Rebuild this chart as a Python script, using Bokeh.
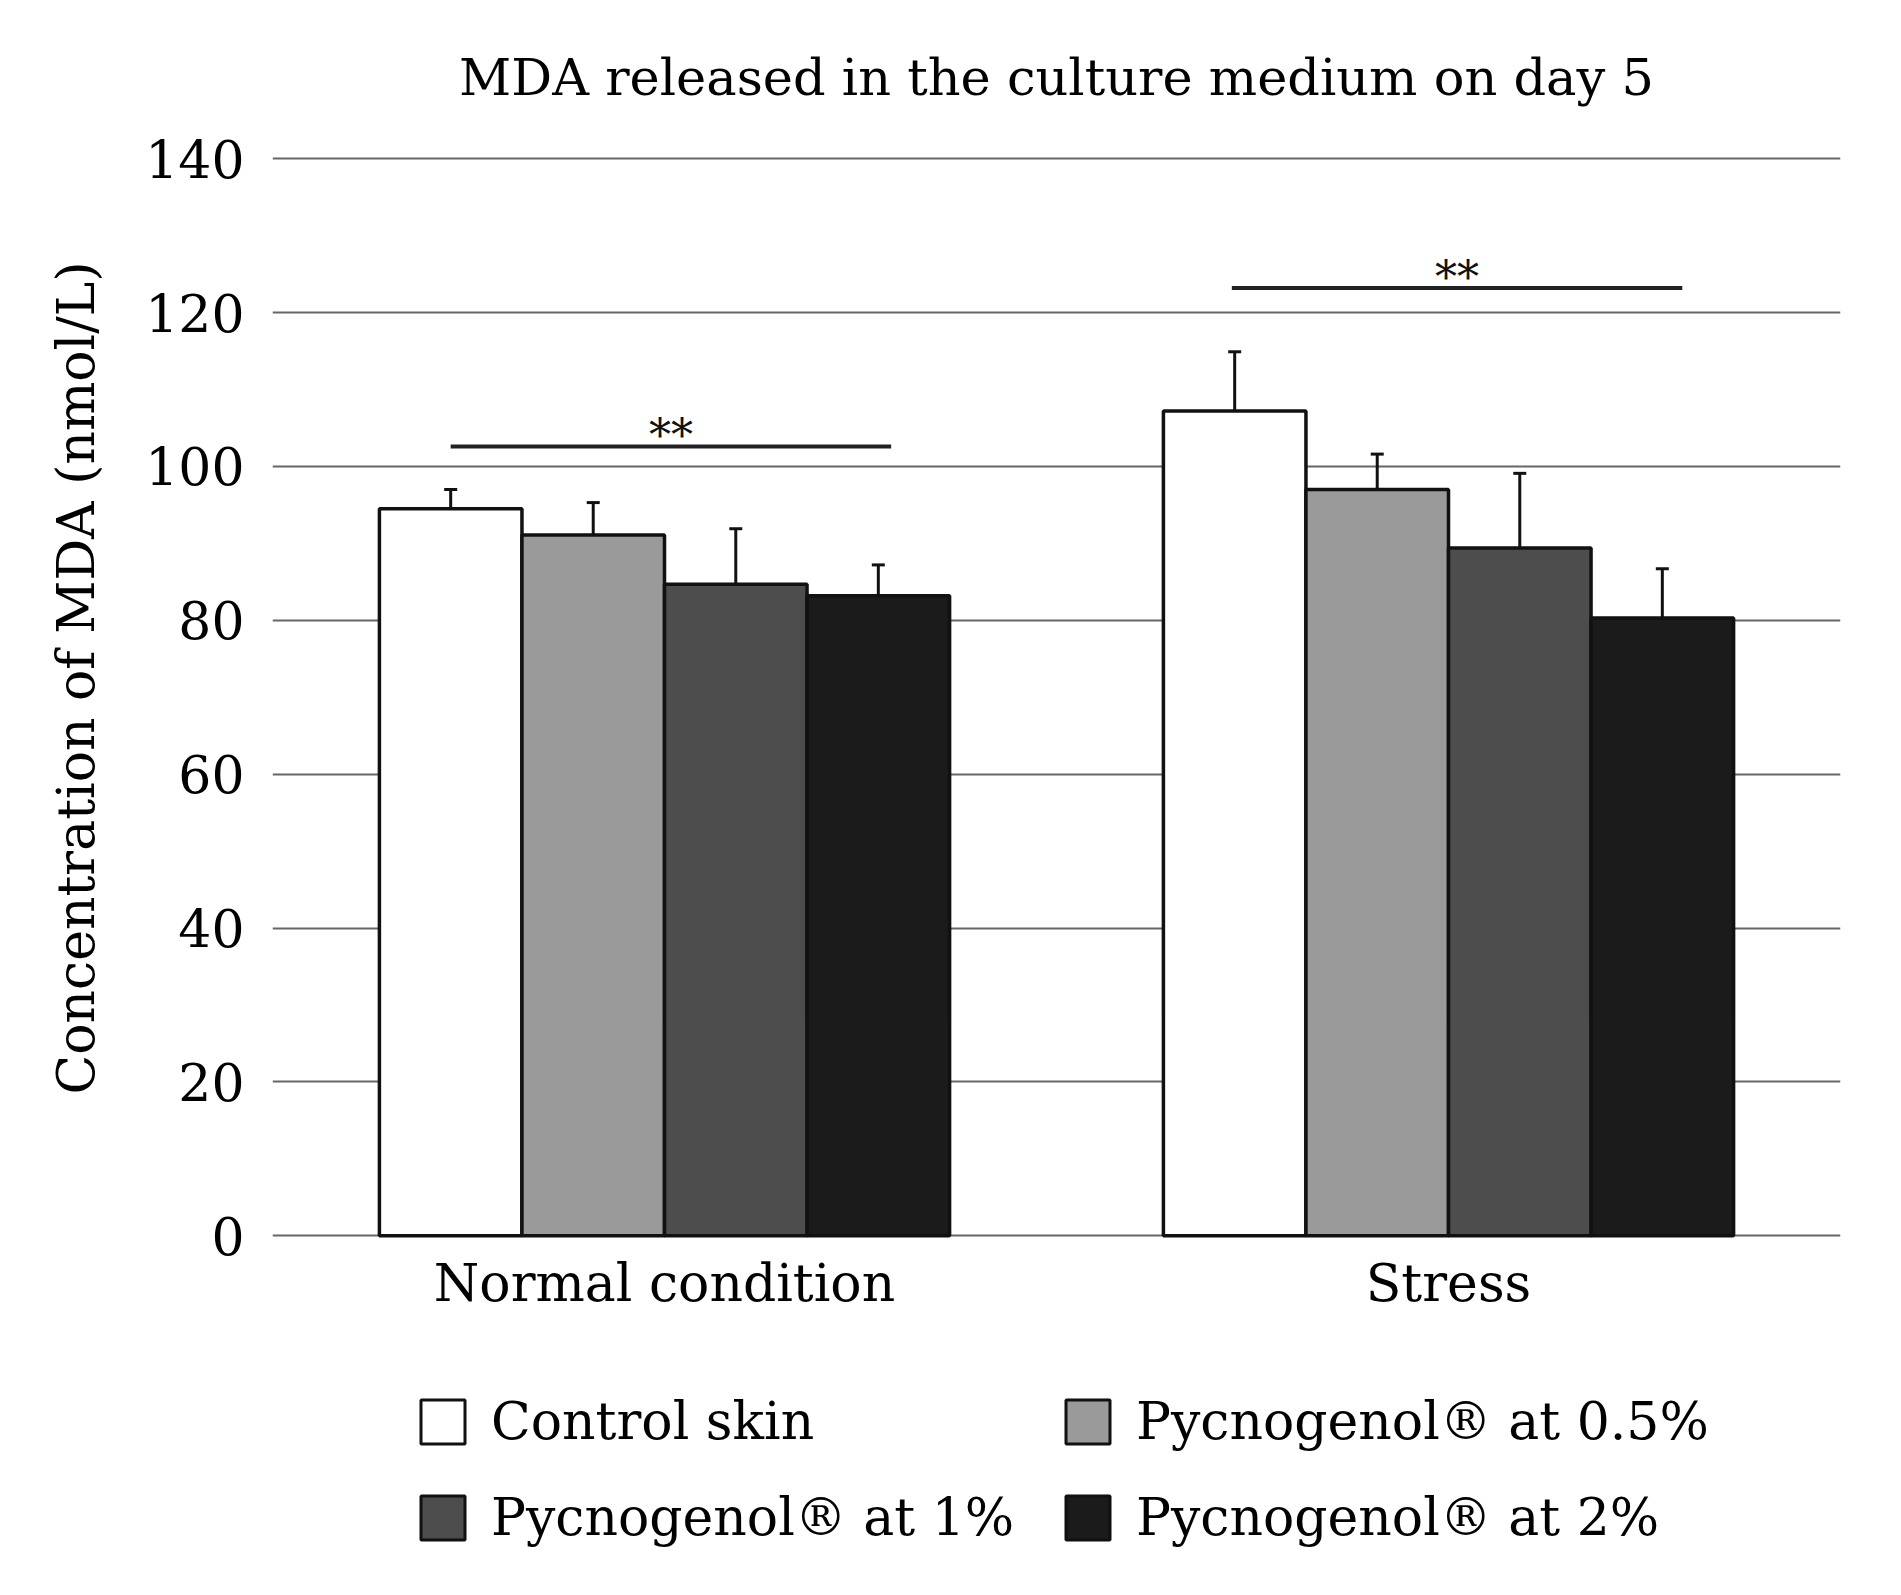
from bokeh.plotting import figure
from bokeh.layouts import column
from bokeh.models import ColumnDataSource, FixedTicker, Legend, LegendItem, Whisker, TeeHead
from bokeh.core.properties import value
from bokeh.embed import file_html
from bokeh.resources import INLINE

# data
groups = ["Normal condition", "Stress"]
treatments = ["Control skin", "Pycnogenol® at 0.5%", "Pycnogenol® at 1%", "Pycnogenol® at 2%"]
colors = ["#ffffff", "#9a9a9a", "#4d4d4d", "#1b1b1b"]

control_skin = [94.5, 107.2]
pyc_05 = [91.1, 97.0]
pyc_1 = [84.7, 89.4]
pyc_2 = [83.2, 80.3]

control_skin_err = [2.5, 7.7]
pyc_05_err = [4.2, 4.6]
pyc_1_err = [7.2, 9.7]
pyc_2_err = [4.0, 6.4]

y_ticks = [0, 20, 40, 60, 80, 100, 120, 140]

# significance bars (x in bar-width units, y in nmol/L)
sig_start = [-1.5, 3.98]
sig_end = [1.59, 7.14]
sig_y = [102.6, 123.2]
sig_label = ["**", "**"]

FONT = "DejaVu Serif"
OUTLINE = "#111111"

group_pos = [0, 5.5]
offsets = [-1.5, -0.5, 0.5, 1.5]
series = [control_skin, pyc_05, pyc_1, pyc_2]
errors = [control_skin_err, pyc_05_err, pyc_1_err, pyc_2_err]

p = figure(width=1885, height=1338, output_backend="svg", toolbar_location=None,
           x_range=(-2.75, 8.25), y_range=(-1, 146),
           min_border_left=272, min_border_right=45,
           min_border_top=112, min_border_bottom=95)
p.outline_line_color = None
p.background_fill_color = "white"

p.title.text = "MDA released in the culture medium on day 5"
p.title.text_font = FONT
p.title.text_font_size = "51px"
p.title.text_font_style = "normal"
p.title.text_color = "black"
p.title.align = "center"
p.title.standoff = 11

for i, name in enumerate(treatments):
    xs = [g + offsets[i] for g in group_pos]
    src = ColumnDataSource(dict(x=xs, top=series[i],
                                upper=[v + e for v, e in zip(series[i], errors[i])]))
    p.vbar(x="x", top="top", bottom=0, width=1.0, source=src,
           fill_color=colors[i], line_color=OUTLINE, line_width=3.5)
    w = Whisker(base="x", lower="top", upper="upper", source=src,
                line_color=OUTLINE, line_width=3, level="annotation",
                upper_head=TeeHead(size=13, line_width=3, line_color=OUTLINE),
                lower_head=None)
    p.add_layout(w)

p.segment(x0=sig_start, y0=sig_y, x1=sig_end, y1=sig_y, line_color="#222222", line_width=4)
star_x = [(a + b) / 2 for a, b in zip(sig_start, sig_end)]
star_y = [y + 1.4 for y in sig_y]
p.text(x=star_x, y=star_y, text=sig_label, text_align="center", text_baseline="middle",
       text_font=value(FONT), text_font_size="44px", text_color="#111111")

# axes
p.xgrid.grid_line_color = None
p.ygrid.ticker = FixedTicker(ticks=y_ticks)
p.ygrid.grid_line_color = "#666666"
p.ygrid.grid_line_width = 2

p.yaxis.ticker = FixedTicker(ticks=y_ticks)
p.yaxis.axis_line_color = None
p.yaxis.major_tick_line_color = None
p.yaxis.minor_tick_line_color = None
p.yaxis.major_tick_out = 0
p.yaxis.major_label_standoff = 28
p.yaxis.major_label_text_font = FONT
p.yaxis.major_label_text_font_size = "52px"
p.yaxis.major_label_text_color = "black"
p.yaxis.axis_label = "Concentration of MDA (nmol/L)"
p.yaxis.axis_label_text_font = FONT
p.yaxis.axis_label_text_font_size = "52px"
p.yaxis.axis_label_text_font_style = "normal"
p.yaxis.axis_label_text_color = "black"
p.yaxis.axis_label_standoff = 36

p.xaxis.ticker = FixedTicker(ticks=group_pos)
p.xaxis.major_label_overrides = {g: name for g, name in zip(group_pos, groups)}
p.xaxis.axis_line_color = None
p.xaxis.major_tick_line_color = None
p.xaxis.minor_tick_line_color = None
p.xaxis.major_tick_out = 0
p.xaxis.major_label_standoff = 9
p.xaxis.major_label_text_font = FONT
p.xaxis.major_label_text_font_size = "52px"
p.xaxis.major_label_text_color = "black"

# legend strip below the chart; swatch renderers hold no drawable point
leg = figure(width=1885, height=241, output_backend="svg", toolbar_location=None,
             x_axis_type=None, y_axis_type=None, x_range=(0, 1), y_range=(0, 1),
             min_border=0, min_border_left=0, min_border_right=0,
             min_border_top=0, min_border_bottom=0)
leg.outline_line_color = None
nan = float("nan")
swatches = [leg.vbar(x=[nan], top=[nan], bottom=0, width=1.0,
                     fill_color=c, line_color=OUTLINE, line_width=3)
            for c in colors]

legend_style = dict(orientation="vertical", padding=0, margin=0, spacing=36,
                    glyph_width=55, glyph_height=55, label_standoff=21, label_height=50,
                    label_text_font=FONT, label_text_font_size="52px",
                    label_text_color="black", border_line_color=None,
                    background_fill_alpha=0)
leg_left = Legend(items=[LegendItem(label=treatments[0], renderers=[swatches[0]]),
                         LegendItem(label=treatments[2], renderers=[swatches[2]])],
                  location=(143, 32), **legend_style)
leg_right = Legend(items=[LegendItem(label=treatments[1], renderers=[swatches[1]]),
                          LegendItem(label=treatments[3], renderers=[swatches[3]])],
                   location=(788, 32), **legend_style)
leg.add_layout(leg_left)
leg.add_layout(leg_right)

open("out.html", "w").write(file_html(column(p, leg), INLINE))
